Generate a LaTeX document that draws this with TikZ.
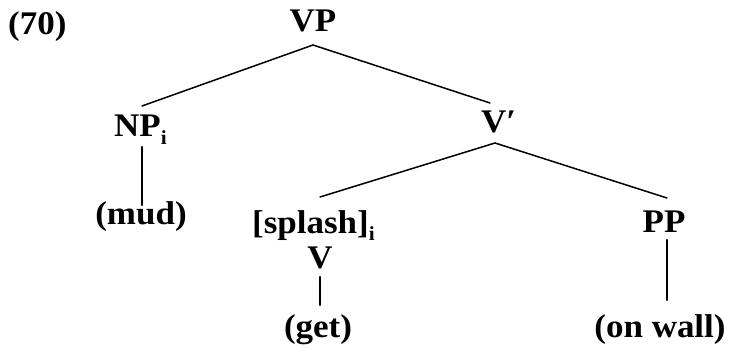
\documentclass[tikz,border=0pt]{standalone}
\usepackage{fontspec}
\setmainfont{Liberation Serif}
\usepackage{graphicx}
\newcommand{\lbl}[1]{\scalebox{1.06}[1]{#1}}
\newcommand{\subi}{\raisebox{-0.22em}{\fontsize{20}{20}\selectfont i}}
\begin{document}
\begin{tikzpicture}[x=1pt,y=-1pt,
  every node/.style={inner sep=0pt, font=\bfseries\fontsize{33}{38}\selectfont},
  edge/.style={line width=1.5pt, line cap=round},
  vedge/.style={line width=2.2pt, line cap=round}]
\useasboundingbox (0,0) rectangle (744,350);
% labels
\node[anchor=base west] (ex) at (8,35) {\lbl{(70)}};
\node[anchor=base] (vp) at (313,32) {\lbl{VP}};
\node[anchor=base west] (np) at (114,137) {\lbl{NP\subi}};
\node[anchor=base west] (vbar) at (481,133) {\lbl{V′}};
\node[anchor=base] (mud) at (141,224) {\lbl{(mud)}};
\node[anchor=base west] (splash) at (252,233) {\lbl{[splash]\subi}};
\node[anchor=base] (v) at (320,268) {\lbl{V}};
\node[anchor=base] (get) at (318,337) {\lbl{(get)}};
\node[anchor=base] (pp) at (664,232) {\lbl{PP}};
\node[anchor=base] (onwall) at (660,337) {\lbl{(on wall)}};
% attachment points
\coordinate (vpB) at (313,45);
\coordinate (npT) at (142,106);
\coordinate (npB) at (142,147);
\coordinate (mudT) at (142,205);
\coordinate (vbarT) at (490,103);
\coordinate (vbarB) at (495,143);
\coordinate (splashT) at (320,197);
\coordinate (ppT) at (667,198);
\coordinate (ppB) at (667,240);
\coordinate (onwallT) at (667,300);
\coordinate (vB) at (320,277);
\coordinate (getT) at (320,305);
% edges
\draw[edge] (vpB) -- (npT);
\draw[edge] (vpB) -- (vbarT);
\draw[vedge] (npB) -- (mudT);
\draw[edge] (vbarB) -- (splashT);
\draw[edge] (vbarB) -- (ppT);
\draw[vedge] (ppB) -- (onwallT);
\draw[vedge] (vB) -- (getT);
\end{tikzpicture}
\end{document}
